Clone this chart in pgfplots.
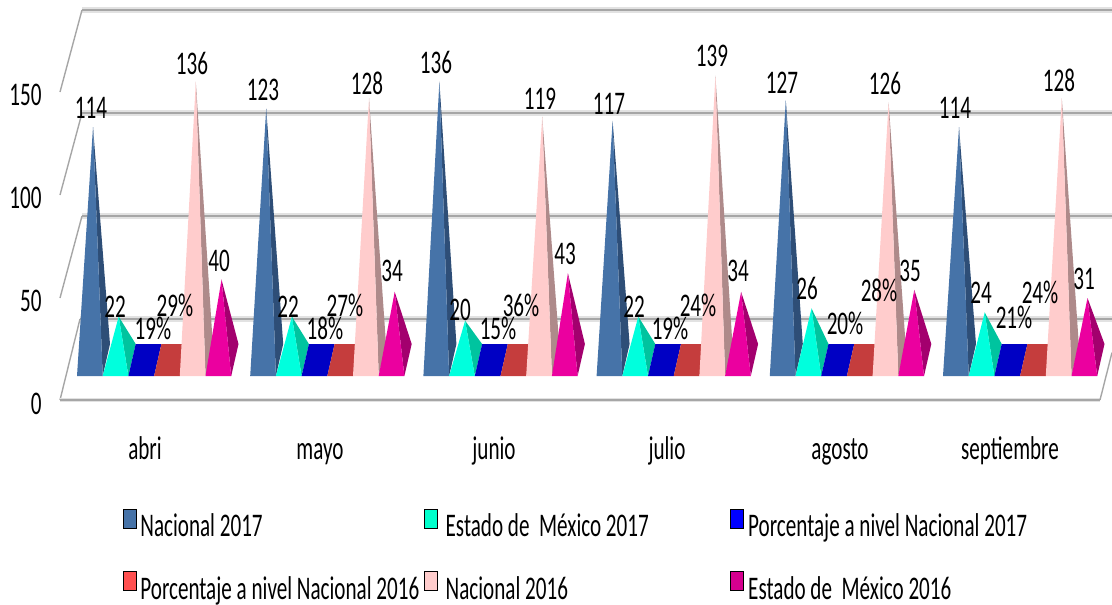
\documentclass[border=0pt]{standalone}
\usepackage{fontspec}
\setmainfont[FakeStretch=0.64]{Carlito}
\usepackage{pgfplots}
\pgfplotsset{compat=1.18}
\definecolor{cA}{HTML}{4673A8}\definecolor{cAs}{HTML}{2E4E77}
\definecolor{cB}{HTML}{00FFDD}\definecolor{cBs}{HTML}{00C49F}
\definecolor{cC}{HTML}{0000C4}
\definecolor{cD}{HTML}{C53D3D}
\definecolor{cE}{HTML}{FFCCCC}\definecolor{cEs}{HTML}{AE8A8A}
\definecolor{cF}{HTML}{EB009F}\definecolor{cFs}{HTML}{A3006E}
\definecolor{lgD}{HTML}{FF5050}
\definecolor{lgB}{HTML}{00FFCC}
\definecolor{lgC}{HTML}{0000FF}
\definecolor{lgF}{HTML}{D6008F}
\definecolor{gridg}{HTML}{A6A6A6}
\definecolor{gridh}{HTML}{E2E2E2}
\newcommand{\lfont}{\fontsize{33}{38}\selectfont}
% pyramid: left edge of slot, value, front colour, side colour
\newcommand{\pyr}[4]{%
  \pgfmathsetmacro\xa{#1}\pgfmathsetmacro\xb{#1+16}\pgfmathsetmacro\xc{#1+25.7}\pgfmathsetmacro\xd{#1+33}\pgfmathsetmacro\vt{#2+18.5}%
  \edef\tmp{\noexpand\addplot[forget plot,fill=#4,draw=none] coordinates {(\xb,\vt)(\xd,27.18)(\xc,11.65)(\xb,\vt)};
  \noexpand\addplot[forget plot,fill=#3,draw=none] coordinates {(\xa,11.65)(\xb,\vt)(\xc,11.65)(\xa,11.65)};}\tmp}
% flat pyramid (percent series): shows only its square base
\newcommand{\flatp}[2]{%
  \pgfmathsetmacro\xa{#1}\pgfmathsetmacro\xc{#1+25.7}\pgfmathsetmacro\xd{#1+33}\pgfmathsetmacro\xe{#1+7.3}%
  \edef\tmp{\noexpand\addplot[forget plot,fill=#2,draw=none] coordinates {(\xa,11.65)(\xc,11.65)(\xd,27.18)(\xe,27.18)(\xa,11.65)};}\tmp}
\newcommand{\group}[7]{%
  \pgfmathsetmacro\sa{#1}\pgfmathsetmacro\sb{#1+25.7}\pgfmathsetmacro\sc{#1+51.4}\pgfmathsetmacro\sd{#1+77.1}\pgfmathsetmacro\se{#1+102.8}\pgfmathsetmacro\sf{#1+128.5}%
  \edef\tmpg{\noexpand\pyr{\sa}{#2}{cA}{cAs}\noexpand\pyr{\sb}{#3}{cB}{cBs}\noexpand\flatp{\sc}{cC}\noexpand\flatp{\sd}{cD}\noexpand\pyr{\se}{#6}{cE}{cEs}\noexpand\pyr{\sf}{#7}{cF}{cFs}}\tmpg}
% label at x pixel, y pixel
\newcommand{\lab}[3]{%
  \pgfmathsetmacro\vy{(400-#2)/2.06}%
  \edef\tmp{\noexpand\node[inner sep=0pt,font=\noexpand\lfont] at (axis cs:#1,\vy) {#3};}\tmp}
\newcommand{\wall}[1]{\addplot[forget plot,gridh,line width=5.5pt] coordinates {#1};\addplot[forget plot,gridg,line width=2.6pt] coordinates {#1};}
\begin{document}
\begin{tikzpicture}
\useasboundingbox (0pt,-205pt) rectangle (1112pt,400pt);
\begin{axis}[at={(0pt,0pt)},anchor=south west,scale only axis,width=1112pt,height=400pt,
  xmin=0,xmax=1112,ymin=0,ymax=194.17,clip=false,
  axis line style={draw=none},tick style={draw=none},
  xtick={145,320,494,667,840,1010},
  xticklabels={abri,mayo,junio,julio,agosto,septiembre},
  ytick={0,50,100,150},
  /pgf/number format/assume math mode=true,
  tick label style={font=\lfont},
  xticklabel style={anchor=base,yshift=-59pt},
  yticklabel style={anchor=east,xshift=45pt,yshift=-4pt},
  legend columns=3,legend cell align=left,
  legend style={at={(axis description cs:0.1106,-0.2725)},anchor=north west,draw=none,fill=none,inner sep=0pt,outer sep=0pt,
    font=\lfont,row sep=33pt,nodes={inner sep=0pt},
    /tikz/column 2/.style={column sep=5pt},/tikz/column 3/.style={column sep=4pt},/tikz/column 4/.style={column sep=81pt},/tikz/column 5/.style={column sep=1pt}},
  legend image code/.code={\fill[#1] (0pt,-2pt) rectangle (13pt,17pt);\path (17pt,0pt);},
]
% walls
\wall{(80,39.3)(1112,39.3)}
\wall{(82,89.3)(1112,89.3)}
\wall{(82,139.3)(1112,139.3)}
\wall{(82,189.3)(1112,189.3)}
\addplot[forget plot,gridg,line width=1.4pt] coordinates {(60,149.5)(82,189.3)};
\addplot[forget plot,gridg,line width=1.4pt] coordinates {(60,99.5)(82,139.3)};
\addplot[forget plot,gridg,line width=1.4pt] coordinates {(60,49.5)(82,89.3)};
\addplot[forget plot,gridg,line width=1.4pt] coordinates {(60,0)(80,39.3)};
\addplot[forget plot,gridh,line width=4pt] coordinates {(60,0)(1100,0)};
\addplot[forget plot,gridg,line width=2pt] coordinates {(60,0)(1100,0)};
\addplot[forget plot,gridg,line width=1.4pt] coordinates {(1100,0)(1112,23)};
% pyramids: x start, Nacional 2017, Edomex 2017, pct 2017, pct 2016, Nacional 2016, Edomex 2016
\group{77}{114}{22}{0.19}{0.29}{136}{40}
\group{250.2}{123}{22}{0.18}{0.27}{128}{34}
\group{423.4}{136}{20}{0.15}{0.36}{119}{43}
\group{596.6}{117}{22}{0.19}{0.24}{139}{34}
\group{769.8}{127}{26}{0.20}{0.28}{126}{35}
\group{943}{114}{24}{0.21}{0.24}{128}{31}
% data labels
\lab{91}{108}{114}\lab{115}{307}{22}\lab{153}{328}{19\%}\lab{175}{305}{29\%}\lab{192}{63}{136}\lab{219}{261}{40}
\lab{263}{90}{123}\lab{288}{307}{22}\lab{325}{328}{18\%}\lab{345}{305}{27\%}\lab{367}{83}{128}\lab{392}{271}{34}
\lab{436}{62}{136}\lab{460}{310}{20}\lab{498}{328}{15\%}\lab{521}{305}{36\%}\lab{540}{99}{119}\lab{565}{254}{43}
\lab{609}{104}{117}\lab{634}{307}{22}\lab{670}{328}{19\%}\lab{698}{305}{24\%}\lab{712}{56}{139}\lab{738}{271}{34}
\lab{782}{83}{127}\lab{807}{288}{26}\lab{845}{323}{20\%}\lab{879}{290}{28\%}\lab{885}{83}{126}\lab{910}{271}{35}
\lab{955}{108}{114}\lab{981}{293}{24}\lab{1014}{317}{21\%}\lab{1040}{292}{24\%}\lab{1059}{80}{128}\lab{1084}{279}{31}
% legend
\addlegendimage{fill=cA}\addlegendentry{Nacional 2017}
\addlegendimage{fill=lgB}\addlegendentry{Estado de~ México 2017}
\addlegendimage{fill=lgC}\addlegendentry{Porcentaje a nivel Nacional 2017}
\addlegendimage{fill=lgD}\addlegendentry{Porcentaje a nivel Nacional 2016}
\addlegendimage{fill=cE}\addlegendentry{Nacional 2016}
\addlegendimage{fill=lgF}\addlegendentry{Estado de~ México 2016}
\end{axis}
\end{tikzpicture}
\end{document}
